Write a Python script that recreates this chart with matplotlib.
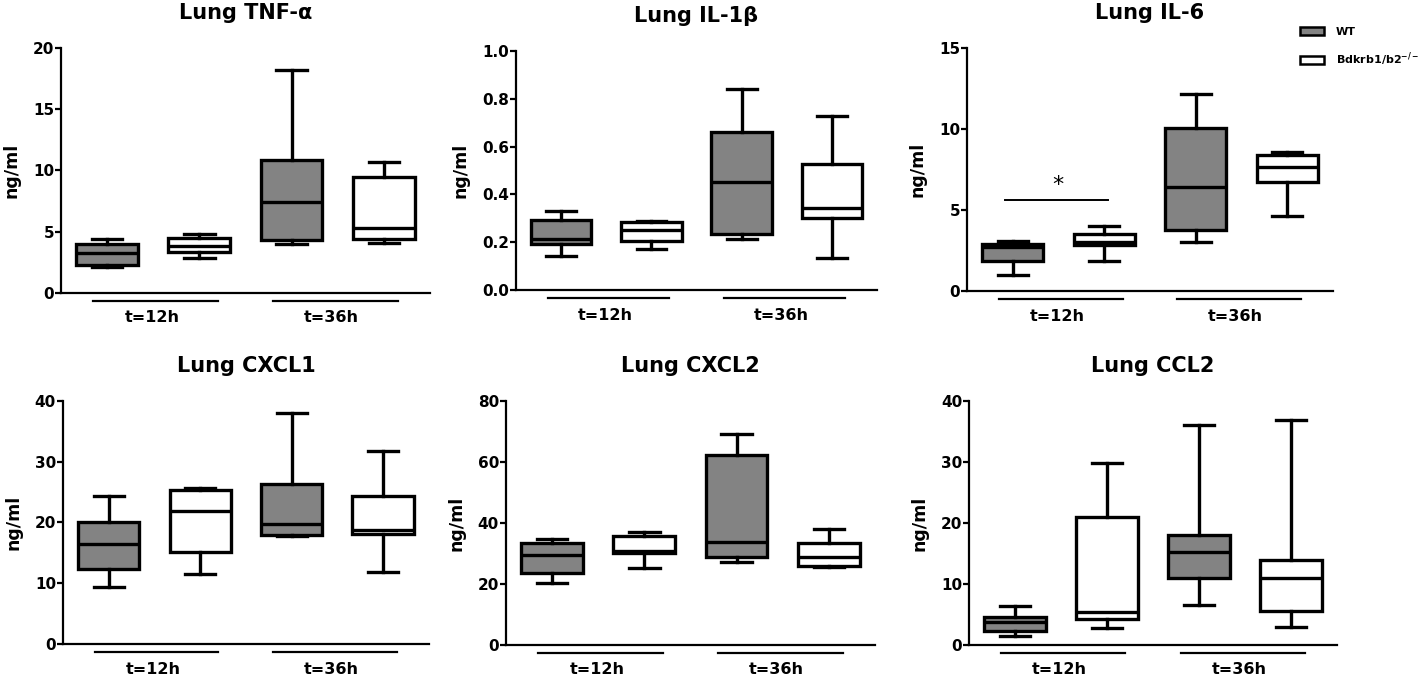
import matplotlib
matplotlib.use("Agg")
import matplotlib.pyplot as plt
from matplotlib.patches import Patch
from matplotlib.transforms import blended_transform_factory, offset_copy

plt.rcParams["font.family"] = ["DejaVu Sans"]
plt.rcParams["font.weight"] = "bold"
plt.rcParams["mathtext.default"] = "bf"

# box stats per group: [whisker low, q1, median, q3, whisker high]
# order: WT 12h, KO 12h, WT 36h, KO 36h
tnf = [[2.1, 2.26, 3.27, 4.0, 4.41], [2.83, 3.35, 3.81, 4.49, 4.82],
       [4.0, 4.35, 7.4, 10.83, 18.18], [4.08, 4.44, 5.31, 9.44, 10.69]]
il1b = [[0.142, 0.194, 0.214, 0.291, 0.329], [0.173, 0.205, 0.251, 0.286, 0.290],
        [0.212, 0.233, 0.45, 0.662, 0.841], [0.134, 0.30, 0.344, 0.529, 0.73]]
il6 = [[1.0, 1.87, 2.69, 2.9, 3.06], [1.87, 2.84, 3.0, 3.49, 3.99],
       [3.0, 3.78, 6.43, 10.09, 12.14], [4.64, 6.74, 7.66, 8.38, 8.59]]
cxcl1 = [[9.34, 12.3, 16.43, 20.16, 24.3], [11.5, 15.2, 21.9, 25.27, 25.7],
         [17.7, 17.97, 19.7, 26.26, 38.0], [11.9, 18.13, 18.8, 24.4, 31.7]]
cxcl2 = [[20.2, 23.6, 29.6, 33.5, 34.7], [25.3, 30.2, 30.9, 35.8, 37.0],
         [27.3, 28.7, 33.8, 62.2, 69.3], [25.5, 26.0, 28.9, 33.5, 37.9]]
ccl2 = [[1.42, 2.29, 3.82, 4.64, 6.44], [2.73, 4.2, 5.35, 21.0, 29.9],
        [6.6, 10.9, 15.2, 18.0, 36.0], [2.9, 5.62, 11.0, 14.0, 36.9]]

titles = ["Lung TNF-\u03b1", "Lung IL-1\u03b2", "Lung IL-6",
          "Lung CXCL1", "Lung CXCL2", "Lung CCL2"]
panel_data = [tnf, il1b, il6, cxcl1, cxcl2, ccl2]
yticks = [[0, 5, 10, 15, 20], [0.0, 0.2, 0.4, 0.6, 0.8, 1.0], [0, 5, 10, 15],
          [0, 10, 20, 30, 40], [0, 20, 40, 60, 80], [0, 10, 20, 30, 40]]
groups = ["t=12h", "t=36h"]
group_spans = [(0.85, 2.2), (2.8, 4.15)]
series = ["WT", "Bdkrb1/b2$^{-/-}$"]
fill_colors = ["#838383", "white"]

# axes rectangles [left, bottom, width, height] in figure fraction
rects = [[0.0430, 0.5685, 0.2602, 0.3608],
         [0.3639, 0.5729, 0.2546, 0.3520],
         [0.6820, 0.5714, 0.2580, 0.3579],
         [0.0444, 0.0515, 0.2580, 0.3580],
         [0.3568, 0.0501, 0.2602, 0.3594],
         [0.6834, 0.0501, 0.2595, 0.3594]]

fig = plt.figure(figsize=(14.18, 6.79), dpi=100)
lw = 2.4

for i in range(6):
    ax = fig.add_axes(rects[i])
    stats = []
    for s in panel_data[i]:
        stats.append({"whislo": s[0], "q1": s[1], "med": s[2], "q3": s[3], "whishi": s[4]})
    bp = ax.bxp(stats, positions=[1, 2, 3, 4], widths=0.67, capwidths=0.33,
                showfliers=False, patch_artist=True,
                boxprops=dict(linewidth=lw, edgecolor="black"),
                whiskerprops=dict(linewidth=lw, color="black"),
                capprops=dict(linewidth=lw, color="black"),
                medianprops=dict(linewidth=lw, color="black"))
    for j, box in enumerate(bp["boxes"]):
        box.set_facecolor(fill_colors[j % 2])
        box.set_joinstyle("miter")

    ax.set_xlim(0.5, 4.5)
    ax.set_ylim(yticks[i][0], yticks[i][-1])
    ax.set_yticks(yticks[i])
    if i == 1:
        ax.set_yticklabels(["%.1f" % v for v in yticks[i]])
    ax.set_xticks([])
    ax.spines["top"].set_visible(False)
    ax.spines["right"].set_visible(False)
    ax.spines["left"].set_linewidth(1.6)
    ax.spines["bottom"].set_linewidth(1.6)
    ax.tick_params(axis="y", labelsize=11, width=1.6, length=4, pad=1)
    ax.set_ylabel("ng/ml", fontsize=12.5, fontweight="bold", labelpad=9)
    ax.set_title(titles[i], fontsize=15, fontweight="bold", pad=21)

    # group bars and labels under the x axis
    trans = blended_transform_factory(ax.transData, ax.transAxes)
    line_tr = offset_copy(trans, fig=fig, y=-6, units="points")
    text_tr = offset_copy(trans, fig=fig, y=-18, units="points")
    for g, (x0, x1) in zip(groups, group_spans):
        ax.plot([x0, x1], [0, 0], color="black", lw=1.6, transform=line_tr, clip_on=False)
        ax.text((x0 + x1) / 2 - 0.04, 0, g, transform=text_tr, ha="center", va="center",
                fontsize=11.5, fontweight="bold")

    if i == 2:
        ax.plot([0.92, 2.04], [5.61, 5.61], color="black", lw=1.4)
        ax.text(1.49, 5.9, "*", ha="center", va="bottom", fontsize=16, fontweight="normal")

handles = [Patch(facecolor=fill_colors[k], edgecolor="black", linewidth=1.8) for k in range(2)]
fig.legend(handles, series, loc="upper left", bbox_to_anchor=(1300 / 1418, 1 - 27 / 679),
           frameon=False, handlelength=2.2, handleheight=0.7,
           handletextpad=1.0, labelspacing=1.2, borderpad=0, borderaxespad=0,
           prop={"weight": "bold", "size": 8})

fig.savefig("out.png", dpi=100)
